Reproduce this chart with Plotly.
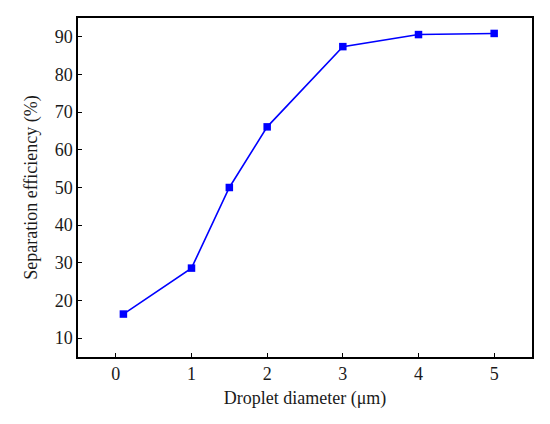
import plotly.graph_objects as go

# droplet diameter (um) vs separation efficiency (%)
diametro = [0.1, 1, 1.5, 2, 3, 4, 5]
eficiencia = [16.4, 28.6, 50.0, 66.1, 87.4, 90.6, 90.9]

x_ticks = [0, 1, 2, 3, 4, 5]
y_ticks = [10, 20, 30, 40, 50, 60, 70, 80, 90]

fig = go.Figure(go.Scatter(
    x=diametro,
    y=eficiencia,
    mode='lines+markers',
    line=dict(color='#0000FF', width=1.6),
    marker=dict(symbol='square', size=7.5, color='#0000FF'),
    showlegend=False
))

eje = dict(
    showline=True, linecolor='black', linewidth=1.5, mirror=True,
    ticks='inside', ticklen=4, tickcolor='black', tickwidth=1.2,
    showgrid=False, zeroline=False,
    tickfont=dict(size=18, color='#1a1a1a'),
)

# la página tiene 8px de margen en el body, así que la figura es más chica
fig.update_layout(
    width=534, height=408,
    margin=dict(l=70, r=8, t=10, b=59),
    paper_bgcolor='white', plot_bgcolor='white',
    font=dict(family='Liberation Serif', size=18, color='#1a1a1a'),
    xaxis=dict(eje, range=[-0.5, 5.5], tickvals=x_ticks,
               title=dict(text='Droplet diameter (μm)', font=dict(size=18), standoff=8)),
    yaxis=dict(eje, range=[5, 95], tickvals=y_ticks,
               title=dict(text='Separation efficiency (%)', font=dict(size=18), standoff=12)),
)

fig.write_html("out.html")
